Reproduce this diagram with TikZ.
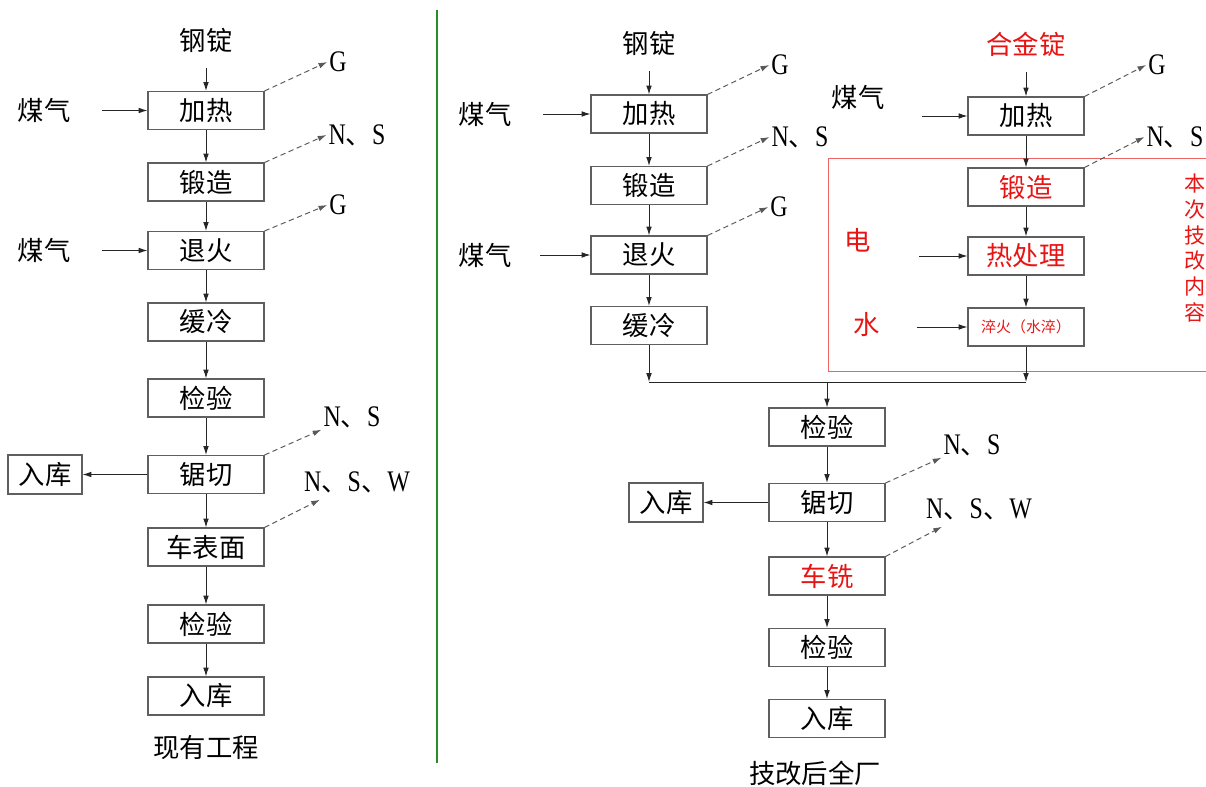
\documentclass[tikz,border=0pt]{standalone}
\usepackage{fontspec}
\setmainfont{Noto Sans CJK SC}
\newfontfamily\latf[FakeStretch=0.8]{Liberation Serif}
\usepackage{tikz}
\usetikzlibrary{arrows.meta}
\definecolor{boxgray}{RGB}{95,95,95}
\definecolor{techred}{RGB}{232,20,20}
\definecolor{framered}{RGB}{236,100,100}
\definecolor{splitgreen}{RGB}{40,140,40}
\newcommand\emi[1]{{\latf\fontsize{17}{20}\selectfont #1}}

\begin{document}
\begin{tikzpicture}[x=0.02cm, y=-0.02cm,
  box/.style={draw=boxgray, line width=0.6pt, minimum width=2.32cm, minimum height=0.76cm,
    inner sep=0pt, font=\fontsize{15}{18}\selectfont},
  side/.style={box, minimum width=1.48cm, minimum height=0.78cm},
  lbl/.style={inner sep=1pt, font=\fontsize{15}{18}\selectfont},
  emis/.style={inner sep=1pt, font=\fontsize{15}{18}\selectfont},
  flow/.style={draw=black!85, line width=0.55pt, -{Latex[length=5pt,width=3.2pt]}},
  emit/.style={flow, densely dashed, draw=black!65},
  feed/.style={flow, shorten <=#1}, feed/.default=17pt]
\useasboundingbox (0,0) rectangle (1206,787);

% existing plant
\node [lbl] (steel1) at (206,40) {钢锭};
\node [box] (h1) at (206,110.5) {加热};
\node [lbl] (gas1) at (44,110.5) {煤气};
\node [box] (f1) at (206,182) {锻造};
\node [box] (a1) at (206,250.5) {退火};
\node [lbl] (gas2) at (44,250.5) {煤气};
\node [box] (c1) at (206,322) {缓冷};
\node [box] (i1) at (206,398) {检验};
\node [box] (s1) at (206,474.5) {锯切};
\node [side] (st1) at (45,474.5) {入库};
\node [box] (t1) at (206,547) {车表面};
\node [box] (i2) at (206,624) {检验};
\node [box] (w1) at (206,696) {入库};
\node [lbl] (cap1) at (206,748) {现有工程};

\node [emis] (e1) at (338,62) {\emi{G}};
\node [emis] (e2) at (357,135) {\emi{N}、\emi{S}};
\node [emis] (e3) at (338,205) {\emi{G}};
\node [emis] (e4) at (352,417) {\emi{N}、\emi{S}};
\node [emis] (e5) at (357,482) {\emi{N}、\emi{S}、\emi{W}};

\draw [flow, shorten <=8pt] (steel1) -- (h1);
\draw [feed] (gas1) -- (h1);
\draw [flow] (h1) -- (f1);
\draw [flow] (f1) -- (a1);
\draw [feed] (gas2) -- (a1);
\draw [flow] (a1) -- (c1);
\draw [flow] (c1) -- (i1);
\draw [flow] (i1) -- (s1);
\draw [flow] (s1) -- (st1);
\draw [flow] (s1) -- (t1);
\draw [flow] (t1) -- (i2);
\draw [flow] (i2) -- (w1);
\draw [emit] (h1.north east) -- (e1.west);
\draw [emit] (f1.north east) -- (e2.west);
\draw [emit] (a1.north east) -- (e3.west);
\draw [emit] (s1.north east) -- (e4.south west);
\draw [emit] (t1.north east) -- ([shift={(18,5)}]e5.south west);

% divider
\draw [splitgreen, line width=1.2pt] (437,10) -- (437,763);

% plant after upgrade
\node [lbl] (steel2) at (649,43) {钢锭};
\node [box] (h2) at (649,114) {加热};
\node [lbl] (gas3) at (485,114) {煤气};
\node [box] (f2) at (649,185.5) {锻造};
\node [box] (a2) at (649,255) {退火};
\node [lbl] (gas4) at (485,255) {煤气};
\node [box] (c2) at (649,325.5) {缓冷};

\node [emis] (e6) at (780,65) {\emi{G}};
\node [emis] (e7) at (800,137) {\emi{N}、\emi{S}};
\node [emis] (e8) at (779,207) {\emi{G}};

\draw [flow, shorten <=8pt] (steel2) -- (h2);
\draw [feed] (gas3) -- (h2);
\draw [flow] (h2) -- (f2);
\draw [flow] (f2) -- (a2);
\draw [feed=15pt] (gas4) -- (a2);
\draw [flow] (a2) -- (c2);
\draw [emit] (h2.north east) -- (e6.west);
\draw [emit] (f2.north east) -- (e7.west);
\draw [emit] (a2.north east) -- (e8.west);

% alloy line
\node [lbl, text=techred] (alloy) at (1026,44) {合金锭};
\node [box] (h3) at (1026,116) {加热};
\node [lbl] (gas5) at (858,97) {煤气};
\node [box, text=techred] (f3) at (1026,187) {锻造};
\node [box, text=techred] (ht) at (1026,256) {热处理};
\node [lbl, text=techred] (elec) at (858,240) {电};
\node [box, text=techred, font=\fontsize{8.5}{10}\selectfont] (qw) at (1026,327) {淬火（水淬）};
\node [lbl, text=techred] (water) at (867,325) {水};
\node [inner sep=0pt, text=techred, align=center, font=\fontsize{12}{14.7}\selectfont] (note) at (1195,248) {本\\次\\技\\改\\内\\容};

\node [emis] (e9) at (1157,65) {\emi{G}};
\node [emis] (e10) at (1175,137) {\emi{N}、\emi{S}};

\draw [framered, line width=0.5pt] (1206,158) -- (828,158) -- (828,371) -- (1206,371);

\draw [flow, shorten <=8pt] (alloy) -- (h3);
\draw [feed=20pt] (gas5.east |- h3) -- (h3);
\draw [flow] (h3) -- (f3);
\draw [flow] (f3) -- (ht);
\draw [feed=26pt] (elec.east |- ht) -- (ht);
\draw [flow] (ht) -- (qw);
\draw [feed=20pt] (water.east |- qw) -- (qw);
\draw [emit] (h3.north east) -- (e9.west);
\draw [emit] (f3.north east) -- (e10.west);

% merge and finishing
\coordinate (mj) at (827,382);
\node [box] (i3) at (827,427) {检验};
\node [box] (s2) at (827,502.5) {锯切};
\node [side] (st2) at (666,502.5) {入库};
\node [box, text=techred] (m2) at (827,576) {车铣};
\node [box] (i4) at (827,647.5) {检验};
\node [box] (w2) at (827,718.5) {入库};
\node [lbl] (cap2) at (815,773) {技改后全厂};

\node [emis] (e11) at (972,445) {\emi{N}、\emi{S}};
\node [emis] (e12) at (979,509) {\emi{N}、\emi{S}、\emi{W}};

\draw [flow] (c2) -- (c2 |- mj);
\draw [flow] (qw) -- (qw |- mj);
\draw [black!85, line width=0.55pt] (c2 |- mj) -- (qw |- mj);
\draw [flow] (mj) -- (i3);
\draw [flow] (i3) -- (s2);
\draw [flow] (s2) -- (st2);
\draw [flow] (s2) -- (m2);
\draw [flow] (m2) -- (i4);
\draw [flow] (i4) -- (w2);
\draw [emit] (s2.north east) -- (e11.south west);
\draw [emit] (m2.north east) -- ([shift={(18,5)}]e12.south west);
\end{tikzpicture}
\end{document}
